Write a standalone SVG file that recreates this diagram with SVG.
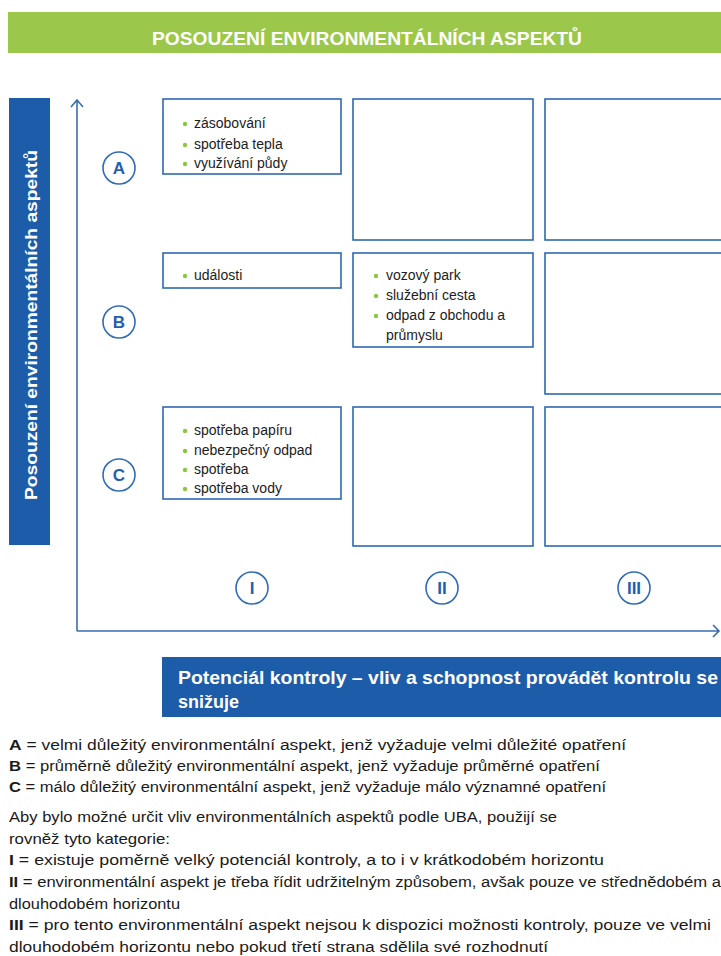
<svg xmlns="http://www.w3.org/2000/svg" width="721" height="956" viewBox="0 0 721 956">
  <defs>
    <style>
      .cell { fill: #ffffff; stroke: #2f69b0; stroke-width: 1.6; }
      .item { font-family: "Liberation Sans", Arial, sans-serif; font-size: 14px; fill: #1c1c1c; }
      .dot { fill: #8cc63f; }
      .ring { fill: #ffffff; stroke: #2f6cb5; stroke-width: 1.6; }
      .mark { font-family: "Liberation Sans", Arial, sans-serif; font-size: 17px; font-weight: bold; fill: #1f5fae; text-anchor: middle; }
      .axis { fill: none; stroke: #3a6db0; stroke-width: 1.6; }
      .legend { font-family: "Liberation Sans", Arial, sans-serif; font-size: 15.5px; fill: #1a1a1a; }
      .legend tspan.k { font-weight: bold; }
      .banner-text { font-family: "Liberation Sans", Arial, sans-serif; font-weight: bold; fill: #ffffff; }
    </style>
  </defs>

  <rect width="721" height="956" fill="#ffffff"/>

  <!-- title banner -->
  <g id="title">
    <rect x="8" y="12" width="713" height="41" fill="#9bc84a"/>
    <text class="banner-text" x="152" y="45" font-size="18" textLength="430" lengthAdjust="spacingAndGlyphs">POSOUZENÍ ENVIRONMENTÁLNÍCH ASPEKTŮ</text>
  </g>

  <!-- vertical axis label -->
  <g id="y-label">
    <rect x="9" y="98" width="41" height="447" fill="#1c5ca9"/>
    <text class="banner-text" font-size="17" font-weight="600" transform="translate(37,500) rotate(-90)" textLength="350" lengthAdjust="spacingAndGlyphs">Posouzení environmentálních aspektů</text>
  </g>

  <!-- horizontal axis label -->
  <g id="x-label">
    <rect x="162" y="657" width="559" height="60" fill="#1c5ca9"/>
    <text class="banner-text" x="178" y="684" font-size="18" textLength="540" lengthAdjust="spacingAndGlyphs">Potenciál kontroly – vliv a schopnost provádět kontrolu se</text>
    <text class="banner-text" x="178" y="708" font-size="18">snižuje</text>
  </g>

  <!-- axes -->
  <g id="connectors">
    <path class="axis" d="M77,631 V100 M71,107 L77,100 L83,107"/>
    <path class="axis" d="M77,631 H719 M713,625 L719,631 L713,637"/>
  </g>

  <!-- row markers -->
  <g id="mark-A"><circle class="ring" cx="119" cy="168" r="16"/><text class="mark" x="119" y="174">A</text></g>
  <g id="mark-B"><circle class="ring" cx="119" cy="322" r="16"/><text class="mark" x="119" y="328">B</text></g>
  <g id="mark-C"><circle class="ring" cx="119" cy="475" r="16"/><text class="mark" x="119" y="481">C</text></g>

  <!-- column markers -->
  <g id="mark-I"><circle class="ring" cx="252" cy="588" r="16"/><text class="mark" x="252" y="594">I</text></g>
  <g id="mark-II"><circle class="ring" cx="442" cy="588" r="16"/><text class="mark" x="442" y="594">II</text></g>
  <g id="mark-III"><circle class="ring" cx="634" cy="588" r="16"/><text class="mark" x="634" y="594">III</text></g>

  <!-- row A -->
  <g id="cell-A-I">
    <rect class="cell" x="163" y="99" width="178" height="75"/>
    <circle class="dot" cx="185" cy="124" r="2.2"/><text class="item" x="194" y="128">zásobování</text>
    <circle class="dot" cx="185" cy="145" r="2.2"/><text class="item" x="194" y="149">spotřeba tepla</text>
    <circle class="dot" cx="185" cy="164" r="2.2"/><text class="item" x="194" y="168">využívání půdy</text>
  </g>
  <g id="cell-A-II"><rect class="cell" x="353" y="99" width="180" height="141"/></g>
  <g id="cell-A-III"><rect class="cell" x="545" y="99" width="180" height="141"/></g>

  <!-- row B -->
  <g id="cell-B-I">
    <rect class="cell" x="163" y="253" width="178" height="35"/>
    <circle class="dot" cx="185" cy="276" r="2.2"/><text class="item" x="194" y="280">události</text>
  </g>
  <g id="cell-B-II">
    <rect class="cell" x="353" y="253" width="180" height="94"/>
    <circle class="dot" cx="376" cy="276" r="2.2"/><text class="item" x="386" y="280">vozový park</text>
    <circle class="dot" cx="376" cy="296" r="2.2"/><text class="item" x="386" y="300">služební cesta</text>
    <circle class="dot" cx="376" cy="316" r="2.2"/><text class="item" x="386" y="320">odpad z obchodu a</text>
    <text class="item" x="386" y="340">průmyslu</text>
  </g>
  <g id="cell-B-III"><rect class="cell" x="545" y="253" width="180" height="141"/></g>

  <!-- row C -->
  <g id="cell-C-I">
    <rect class="cell" x="163" y="407" width="178" height="92"/>
    <circle class="dot" cx="185" cy="431" r="2.2"/><text class="item" x="194" y="435">spotřeba papíru</text>
    <circle class="dot" cx="185" cy="451" r="2.2"/><text class="item" x="194" y="455">nebezpečný odpad</text>
    <circle class="dot" cx="185" cy="470" r="2.2"/><text class="item" x="194" y="474">spotřeba</text>
    <circle class="dot" cx="185" cy="489" r="2.2"/><text class="item" x="194" y="493">spotřeba vody</text>
  </g>
  <g id="cell-C-II"><rect class="cell" x="353" y="407" width="180" height="139"/></g>
  <g id="cell-C-III"><rect class="cell" x="545" y="407" width="180" height="139"/></g>

  <!-- legend -->
  <g id="legend" class="legend">
    <text x="9" y="750" textLength="617" lengthAdjust="spacingAndGlyphs"><tspan class="k">A</tspan> = velmi důležitý environmentální aspekt, jenž vyžaduje velmi důležité opatření</text>
    <text x="9" y="771" textLength="591" lengthAdjust="spacingAndGlyphs"><tspan class="k">B</tspan> = průměrně důležitý environmentální aspekt, jenž vyžaduje průměrné opatření</text>
    <text x="9" y="792" textLength="597" lengthAdjust="spacingAndGlyphs"><tspan class="k">C</tspan> = málo důležitý environmentální aspekt, jenž vyžaduje málo významné opatření</text>
    <text x="9" y="822" textLength="548" lengthAdjust="spacingAndGlyphs">Aby bylo možné určit vliv environmentálních aspektů podle UBA, použijí se</text>
    <text x="9" y="844" textLength="161" lengthAdjust="spacingAndGlyphs">rovněž tyto kategorie:</text>
    <text x="9" y="865" textLength="595" lengthAdjust="spacingAndGlyphs"><tspan class="k">I</tspan> = existuje poměrně velký potenciál kontroly, a to i v krátkodobém horizontu</text>
    <text x="9" y="887" textLength="712" lengthAdjust="spacingAndGlyphs"><tspan class="k">II</tspan> = environmentální aspekt je třeba řídit udržitelným způsobem, avšak pouze ve střednědobém a</text>
    <text x="9" y="909" textLength="171" lengthAdjust="spacingAndGlyphs">dlouhodobém horizontu</text>
    <text x="9" y="930" textLength="702" lengthAdjust="spacingAndGlyphs"><tspan class="k">III</tspan> = pro tento environmentální aspekt nejsou k dispozici možnosti kontroly, pouze ve velmi</text>
    <text x="9" y="952" textLength="539" lengthAdjust="spacingAndGlyphs">dlouhodobém horizontu nebo pokud třetí strana sdělila své rozhodnutí</text>
  </g>
</svg>
